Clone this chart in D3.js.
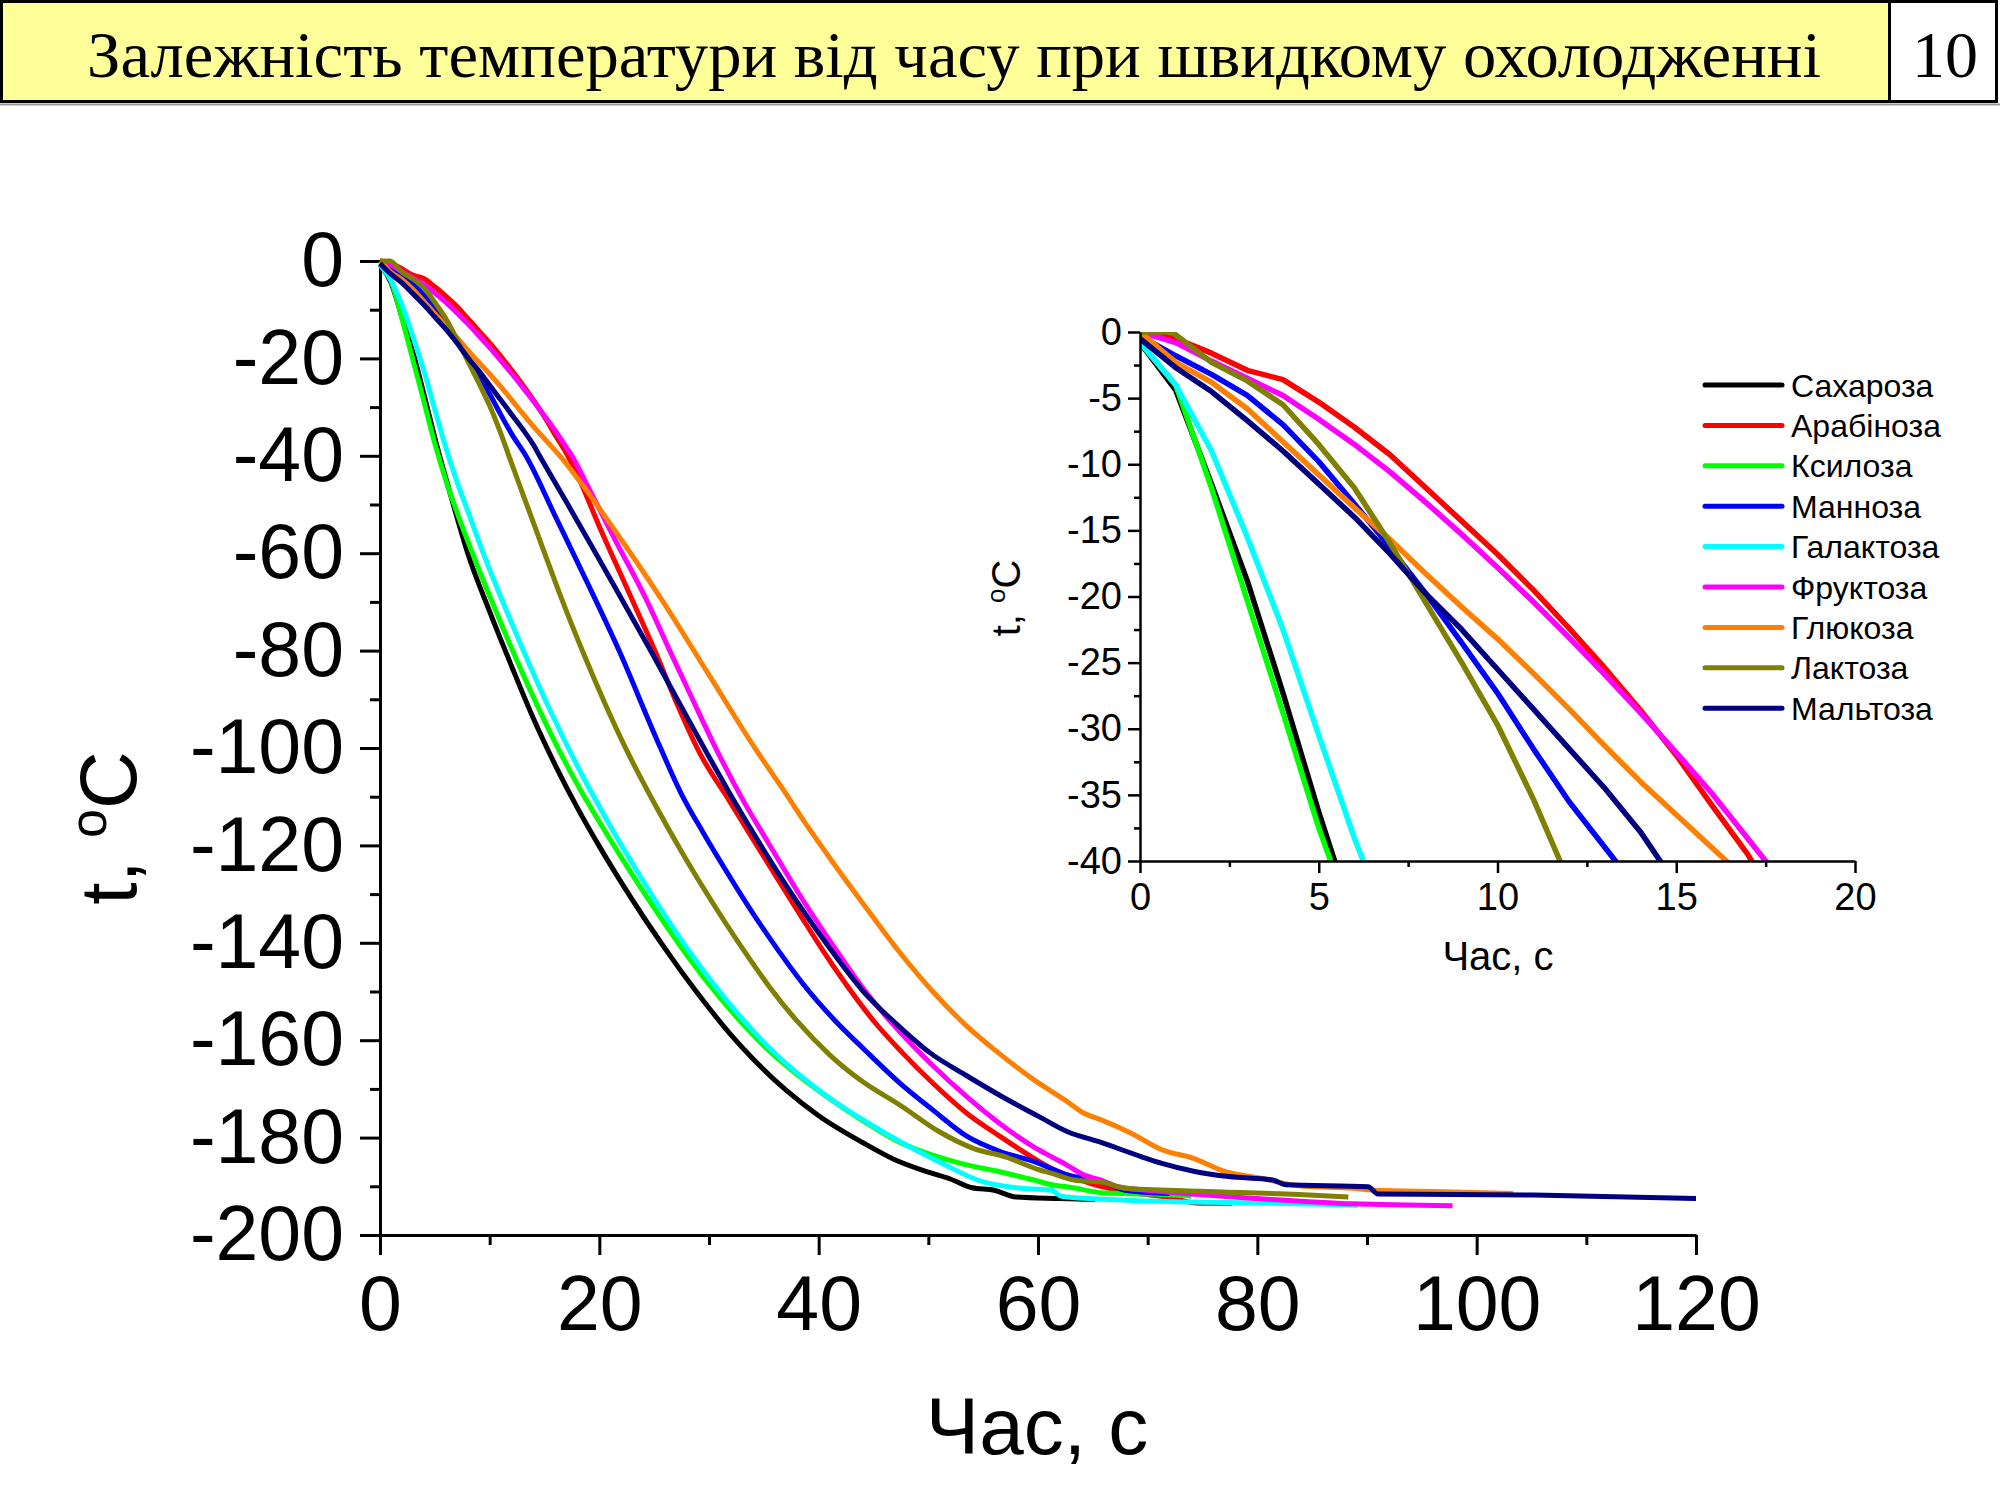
<!DOCTYPE html>
<html lang="uk">
<head>
<meta charset="UTF-8">
<title>Залежність температури від часу при швидкому охолодженні</title>
<script src="https://d3js.org/d3.v7.min.js"></script>
<style>
  body { margin: 0; background: #fff; }
  svg { display: block; font-family: "Liberation Sans", Arial, sans-serif; }
  .axis path, .axis line { stroke: #000; }
  .axis text { fill: #000; font-family: "Liberation Sans", Arial, sans-serif; }
</style>
</head>
<body>
<svg id="chart" width="2000" height="1500"></svg>
<script>
// [time, s ; temperature, °C]
const sucrose = [[0,-0.8],[1,-4.4],[2,-11.5],[3,-18.8],[4,-27.3],[5,-36.3],[6,-44.6],[7,-52.5],[8,-60],[10,-72],[12,-83.2],[14,-94],[16,-103.6],[18,-112.3],[20,-120.2],[22,-127.6],[24,-134.6],[26,-141.2],[28,-147.5],[30,-153.4],[32,-158.9],[34,-163.8],[37,-170.2],[40,-175.5],[44,-181],[47,-184.6],[50,-187.1],[52,-188.5],[54,-190.3],[56,-190.8],[58,-192.2],[62,-192.5],[65.2,-192.7]];
const arabinose = [[0,0],[1,-0.5],[2,-1.6],[3,-2.9],[4,-3.6],[5,-5.3],[6,-7.2],[7,-9.3],[8,-11.8],[9,-14.3],[10,-16.8],[11,-19.5],[12,-22.4],[13,-25.4],[14,-28.6],[15,-32],[16,-35.8],[17,-39.5],[18,-44],[20,-54.5],[23,-69.6],[25.1,-80.2],[27,-90.5],[29.1,-100.8],[31.9,-111],[34,-118.7],[36.2,-126.7],[38.3,-134.2],[40.3,-141.3],[42.2,-147.6],[45,-156],[47.6,-162.5],[50.4,-168.8],[53.5,-175],[56.5,-179.7],[59.6,-184.2],[61.2,-186.3],[62.6,-187.6],[65.2,-189.7],[68.8,-191.4],[72,-192.3],[74.7,-193.5],[77.7,-193.5]];
const xylose = [[0,-0.8],[1,-4],[2,-11.8],[3,-20.3],[4,-28.8],[5,-37.5],[6,-45],[7,-51.5],[8.4,-59.8],[10,-68.8],[12,-79.5],[14,-89.6],[16,-99],[18,-107.5],[20.5,-117],[23,-126],[25.5,-134.5],[27.5,-141],[30,-148.5],[32.5,-155.2],[35.3,-161.8],[38,-167],[41,-172],[44,-176.5],[47.4,-181],[50.4,-183.6],[53.5,-185.6],[56.5,-187],[59.6,-188.7],[61.5,-189.8],[62.6,-190.1],[66.3,-191.4],[70,-191.6],[74,-192]];
const mannose = [[0,-0.3],[1,-1.8],[2,-3.2],[3,-4.8],[4,-7],[5,-9.8],[6,-13],[7,-16.3],[8,-19.8],[9,-23.5],[10,-27.3],[11,-31.5],[12,-35.5],[13.3,-40],[16,-52.5],[19,-66.5],[21.9,-80.5],[25,-97],[27.5,-109.5],[29.5,-117.5],[31.5,-125],[33.5,-132.2],[36.3,-141.5],[38.6,-148.5],[41.5,-156],[44.2,-162],[47.4,-168.8],[50.4,-174.3],[53.5,-179.7],[56.5,-182.8],[59.6,-184.9],[62.6,-187.6],[66.3,-189.3],[67.9,-190.8],[72,-191.5]];
const galactose = [[0,-0.8],[1,-4],[2,-9],[3,-15.5],[4,-22.5],[5,-30.5],[6,-38.3],[7,-45.2],[8,-51.3],[9.3,-59.3],[11,-68.9],[13,-79.6],[15.5,-92.2],[18,-103.7],[21,-116],[23.5,-125.5],[25.5,-132.7],[28,-141.1],[30.4,-148.4],[33,-155.5],[35.7,-162],[38.5,-167.6],[41.5,-172.7],[44.5,-177],[47.4,-180.8],[51,-185],[55,-189.1],[58,-190.3],[61.2,-190.8],[62.2,-192.1],[68.6,-192.9],[76,-193.3],[84,-193.6],[89.2,-193.9]];
const fructose = [[0,0],[1,-0.8],[2,-2.2],[3,-3.5],[4,-4.8],[5,-6.6],[6,-8.5],[7,-10.6],[8,-12.9],[9,-15.3],[10,-17.8],[11,-20.4],[12,-23.1],[13,-25.9],[14,-28.8],[15,-31.8],[16,-34.9],[17,-38.3],[17.5,-40],[19,-46.5],[21.5,-57.5],[24.3,-69.6],[26.4,-79.9],[28.5,-90],[30.5,-99.5],[33.1,-110.7],[35.5,-119.8],[38.5,-131],[41.6,-141.5],[44,-149.2],[47.4,-158.3],[50.4,-165.2],[53.5,-171.6],[56.5,-177.1],[59.6,-181.9],[61.2,-183.9],[62.6,-185.6],[64.2,-187.7],[65.7,-188.7],[67.3,-190.1],[70,-190.8],[73.4,-191.5],[80,-192.5],[88.7,-193.6],[97.8,-194]];
const glucose = [[0,0],[1,-2.3],[2,-3.8],[3,-5.8],[4,-8.3],[5,-10.8],[6,-13.3],[7,-15.7],[8,-18.3],[9,-20.8],[10,-23.2],[11,-25.8],[12,-28.5],[13,-31.3],[14,-34],[15,-36.5],[16,-39],[16.4,-40],[18.3,-45.5],[21,-54],[25.7,-69.6],[30,-85],[34.3,-100.4],[36.6,-108],[38.9,-115.8],[41.3,-123.5],[43.8,-131.2],[47.4,-142],[50.4,-150],[53.5,-157.1],[56.5,-162.8],[59.6,-168.1],[62.6,-172.5],[64.2,-175],[65.7,-176.3],[68.5,-179.1],[71.3,-182.5],[74.1,-184.2],[77.1,-187],[80.2,-188.3],[84.2,-190],[88.7,-190.4],[90.6,-190.8],[97,-191.1],[103.3,-191.5]];
const lactose = [[0,0],[0.9,0],[2,-2.3],[3,-3.7],[4,-5.5],[5,-8.5],[6,-11.8],[7,-16],[8,-20.5],[9,-25],[10,-29.7],[11,-35.3],[11.75,-40],[13,-47.7],[14.9,-59.3],[16.6,-69.6],[18.5,-80.3],[20.5,-90.8],[22.5,-100.5],[25,-111.3],[27.5,-121.3],[30,-130.6],[33,-141],[35.5,-149],[38,-156],[41,-163],[44,-168.5],[47.4,-173.3],[51,-178.8],[54.1,-182.2],[57.1,-184],[60.1,-186.6],[61.2,-187.3],[63.3,-188.7],[66,-189.2],[67.9,-190.4],[74.7,-191],[83.8,-191.7],[88.3,-192.2]];
const maltose = [[0,-0.5],[1,-2.7],[2,-4.5],[3,-6.7],[4,-9],[5,-11.5],[6,-14],[7,-16.8],[8,-19.8],[9,-22.5],[10,-25.5],[11,-28.5],[12,-31.5],[13,-34.5],[14,-37.8],[14.55,-40],[17,-49.5],[19.8,-60.5],[22.3,-70.5],[24.8,-80.5],[27.3,-90.8],[29.8,-101],[32.4,-111.3],[35,-121],[38,-131.5],[41.3,-142],[44,-149.8],[47.4,-157.3],[50.1,-162.5],[53.5,-167.3],[56.5,-171.3],[60.1,-175.7],[62.7,-178.8],[65.5,-180.8],[69.4,-183.9],[71.3,-185.3],[74.4,-187],[77.4,-188],[81.4,-188.7],[82.6,-189.7],[90.1,-190.1],[91,-191.6],[105.2,-191.8],[120,-192.5]];

const names = ["Сахароза","Арабіноза","Ксилоза","Манноза","Галактоза","Фруктоза","Глюкоза","Лактоза","Мальтоза"];
const seriesData = [sucrose, arabinose, xylose, mannose, galactose, fructose, glucose, lactose, maltose];
const colors = ["#000000","#ff0000","#00ff00","#0000ff","#00ffff","#ff00ff","#ff8000","#808000","#000080"];

const mainXTicks = [0,20,40,60,80,100,120];
const mainYTicks = [0,-20,-40,-60,-80,-100,-120,-140,-160,-180,-200];
const insetXTicks = [0,5,10,15,20];
const insetYTicks = [0,-5,-10,-15,-20,-25,-30,-35,-40];

const titleText = "Залежність температури від часу при швидкому охолодженні";
const slideNo = "10";

const svg = d3.select("#chart");
const plain = d => String(d);   // keep the ASCII hyphen as minus sign

// header bar
svg.append("rect").attr("x", 1.5).attr("y", 1.5).attr("width", 1888).attr("height", 100)
  .attr("fill", "#ffff99").attr("stroke", "#000").attr("stroke-width", 3);
svg.append("rect").attr("x", 1889.5).attr("y", 1.5).attr("width", 107).attr("height", 100)
  .attr("fill", "#fff").attr("stroke", "#000").attr("stroke-width", 3);
svg.append("line").attr("x1", 0).attr("x2", 2000).attr("y1", 104.5).attr("y2", 104.5)
  .attr("stroke", "#999").attr("stroke-width", 2);
svg.append("text").attr("x", 954).attr("y", 77)
  .attr("text-anchor", "middle")
  .attr("font-family", "'Liberation Serif', 'Times New Roman', serif")
  .attr("font-size", 66)
  .attr("textLength", 1734).attr("lengthAdjust", "spacingAndGlyphs")
  .text(titleText);
svg.append("text").attr("x", 1945).attr("y", 77)
  .attr("text-anchor", "middle")
  .attr("font-family", "'Liberation Serif', 'Times New Roman', serif")
  .attr("font-size", 66)
  .text(slideNo);

// main chart
const x = d3.scaleLinear().domain([0, 120]).range([380, 1696]);
const y = d3.scaleLinear().domain([-200, 0]).range([1235, 261]);

function styleAxis(g, size, width) {
  g.attr("class", "axis").attr("font-size", size);
  g.selectAll("path, line").attr("stroke-width", width);
}

svg.append("g").attr("transform", "translate(0,1235)")
  .call(d3.axisBottom(x).tickValues(d3.range(10, 120, 20)).tickSize(10).tickFormat("").tickSizeOuter(0))
  .call(g => { styleAxis(g, 10, 3); g.select(".domain").remove(); });
svg.append("g").attr("transform", "translate(380,0)")
  .call(d3.axisLeft(y).tickValues(d3.range(-190, 0, 20)).tickSize(10).tickFormat("").tickSizeOuter(0))
  .call(g => { styleAxis(g, 10, 3); g.select(".domain").remove(); });

svg.append("g").attr("transform", "translate(0,1235)")
  .call(d3.axisBottom(x).tickValues(mainXTicks).tickFormat(plain).tickSize(20).tickPadding(20).tickSizeOuter(0))
  .call(g => styleAxis(g, 77, 3));
svg.append("g").attr("transform", "translate(380,0)")
  .call(d3.axisLeft(y).tickValues(mainYTicks).tickFormat(plain).tickSize(20).tickPadding(16).tickSizeOuter(0))
  .call(g => styleAxis(g, 77, 3));

const mainLine = d3.line().x(d => x(d[0])).y(d => y(d[1])).curve(d3.curveMonotoneX);
svg.append("g").selectAll("path")
  .data(seriesData)
  .join("path")
    .attr("d", mainLine)
    .attr("fill", "none")
    .attr("stroke", (d, i) => colors[i])
    .attr("stroke-width", 5)
    .attr("stroke-linejoin", "round");

svg.append("text").attr("x", 1037).attr("y", 1454)
  .attr("text-anchor", "middle").attr("font-size", 80).text("Час, с");
const yTitle = svg.append("text")
  .attr("transform", "translate(136,828) rotate(-90)")
  .attr("text-anchor", "middle").attr("font-size", 80);
yTitle.append("tspan").text("t, ");
yTitle.append("tspan").attr("font-size", 52).attr("dy", -30).text("o");
yTitle.append("tspan").attr("dy", 30).text("C");

// inset
const xi = d3.scaleLinear().domain([0, 20]).range([1140, 1855]);
const yi = d3.scaleLinear().domain([-40, 0]).range([861, 332]);

svg.append("defs").append("clipPath").attr("id", "insetClip")
  .append("rect").attr("x", 1140).attr("y", 332).attr("width", 715).attr("height", 529);

svg.append("g").attr("transform", "translate(0,861)")
  .call(d3.axisBottom(xi).tickValues(d3.range(2.5, 20, 5)).tickSize(6).tickFormat("").tickSizeOuter(0))
  .call(g => { styleAxis(g, 10, 2.5); g.select(".domain").remove(); });
svg.append("g").attr("transform", "translate(1140,0)")
  .call(d3.axisLeft(yi).tickValues(d3.range(-37.5, 0, 5)).tickSize(6).tickFormat("").tickSizeOuter(0))
  .call(g => { styleAxis(g, 10, 2.5); g.select(".domain").remove(); });

const insetLine = d3.line().x(d => xi(d[0])).y(d => yi(d[1]));
svg.append("g").attr("clip-path", "url(#insetClip)")
  .selectAll("path")
  .data(seriesData)
  .join("path")
    .attr("d", insetLine)
    .attr("fill", "none")
    .attr("stroke", (d, i) => colors[i])
    .attr("stroke-width", 5.5)
    .attr("stroke-linejoin", "round");

svg.append("g").attr("transform", "translate(0,861)")
  .call(d3.axisBottom(xi).tickValues(insetXTicks).tickFormat(plain).tickSize(12).tickPadding(10).tickSizeOuter(0))
  .call(g => styleAxis(g, 38, 2.5));
svg.append("g").attr("transform", "translate(1140,0)")
  .call(d3.axisLeft(yi).tickValues(insetYTicks).tickFormat(plain).tickSize(12).tickPadding(6).tickSizeOuter(0))
  .call(g => styleAxis(g, 38, 2.5));

svg.append("text").attr("x", 1498).attr("y", 970)
  .attr("text-anchor", "middle").attr("font-size", 40).text("Час, с");
const yiTitle = svg.append("text")
  .attr("transform", "translate(1020,598) rotate(-90)")
  .attr("text-anchor", "middle").attr("font-size", 40);
yiTitle.append("tspan").text("t, ");
yiTitle.append("tspan").attr("font-size", 26).attr("dy", -15).text("o");
yiTitle.append("tspan").attr("dy", 15).text("C");

// legend
const legend = svg.append("g").selectAll("g")
  .data(names)
  .join("g")
    .attr("transform", (d, i) => `translate(1705,${385 + i * 40.4})`);
legend.append("line")
  .attr("x1", 0).attr("x2", 77)
  .attr("stroke", (d, i) => colors[i])
  .attr("stroke-width", 5)
  .attr("stroke-linecap", "round");
legend.append("text")
  .attr("x", 86).attr("dy", "0.36em")
  .attr("font-size", 32)
  .text(d => d);
</script>
</body>
</html>
